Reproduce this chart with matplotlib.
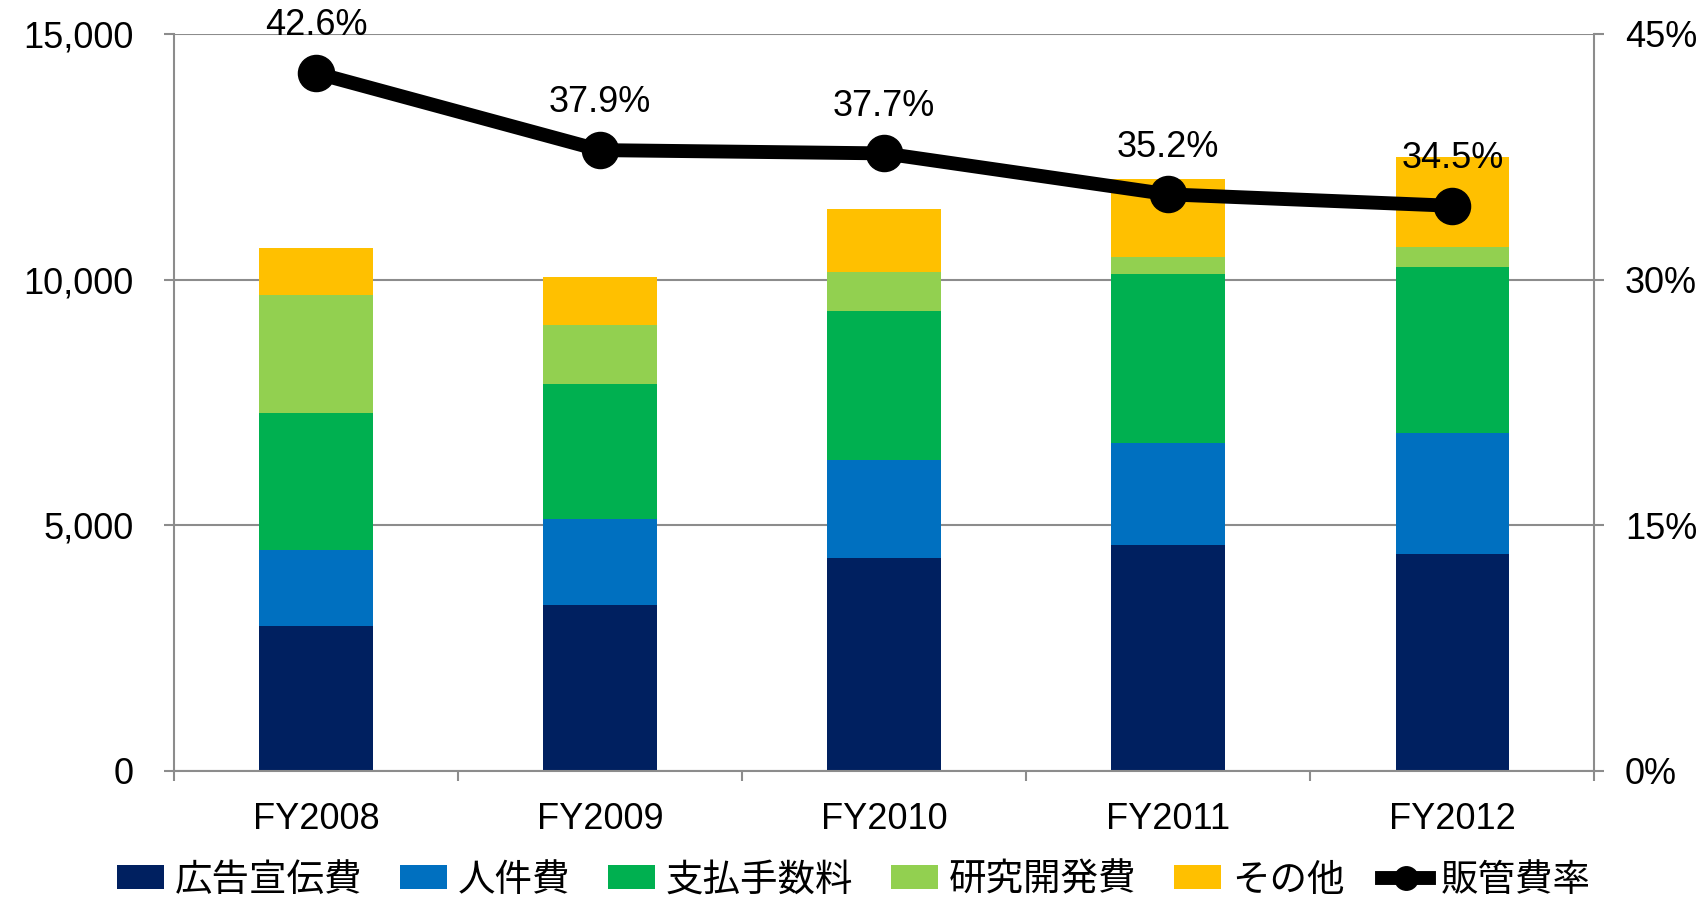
import matplotlib
matplotlib.use("Agg")
import matplotlib.pyplot as plt
import numpy as np

# data
years = ["FY2008", "FY2009", "FY2010", "FY2011", "FY2012"]
advertising = [2960, 3375, 4330, 4595, 4413]      # 広告宣伝費
personnel = [1545, 1760, 1995, 2080, 2462]        # 人件費
fees = [2780, 2735, 3030, 3435, 3370]             # 支払手数料
rnd = [2395, 1205, 790, 350, 425]                 # 研究開発費
other = [965, 985, 1295, 1595, 1820]              # その他
sga_ratio = [42.6, 37.9, 37.7, 35.2, 34.5]        # 販管費率

series = [
    ("広告宣伝費", advertising, "#002060"),
    ("人件費", personnel, "#0070C0"),
    ("支払手数料", fees, "#00B050"),
    ("研究開発費", rnd, "#92D050"),
    ("その他", other, "#FFC000"),
]

plt.rcParams["font.family"] = ["Liberation Sans", "Noto Sans CJK JP", "DejaVu Sans"]
GRID = "#8c8c8c"

fig = plt.figure(figsize=(17.07, 8.99), dpi=100)
ax = fig.add_axes([0.102, 0.1424, 0.832, 0.820])
x = np.arange(len(years))

bottom = np.zeros(len(years))
handles = []
for name, vals, col in series:
    b = ax.bar(x, vals, 0.40, bottom=bottom, color=col, label=name, zorder=2)
    handles.append(b)
    bottom += np.array(vals)

ax.set_xlim(-0.5, len(years) - 0.5)
ax.set_ylim(0, 15000)
ax.set_yticks([0, 5000, 10000, 15000])
ax.set_yticklabels(["0", "5,000", "10,000", "15,000"])
ax.yaxis.grid(True, color=GRID, linewidth=1.5, zorder=0)
ax.set_axisbelow(True)

ax.set_xticks(x)
ax.set_xticklabels(years)
ax.set_xticks(np.arange(-0.5, len(years)), minor=True)
ax.tick_params(axis="x", which="major", length=0, pad=22, labelsize=26)
ax.tick_params(axis="x", which="minor", length=7, width=1.5, color=GRID)
ax.tick_params(axis="y", length=7, width=1.5, color=GRID, labelsize=26, pad=22)

for s in ["top", "right"]:
    ax.spines[s].set_visible(False)
for s in ["left", "bottom"]:
    ax.spines[s].set_color(GRID)
    ax.spines[s].set_linewidth(1.5)

ax2 = ax.twinx()
ax2.set_ylim(0, 45)
ax2.set_yticks([0, 15, 30, 45])
ax2.set_yticklabels(["0%", "15%", "30%", "45%"])
ax2.tick_params(axis="y", length=7, width=1.5, color=GRID, labelsize=26, pad=15)
for s in ["top", "left", "bottom"]:
    ax2.spines[s].set_visible(False)
ax2.spines["right"].set_color(GRID)
ax2.spines["right"].set_linewidth(1.5)

line, = ax2.plot(x, sga_ratio, color="black", linewidth=10, marker="o",
                 markersize=26, label="販管費率", zorder=5)
for xi, v in zip(x, sga_ratio):
    ax2.annotate("{:.1f}%".format(v), (xi, v), xytext=(0, 34),
                 textcoords="offset points", ha="center", va="center",
                 fontsize=26, zorder=6)

handles.append(line)
leg = fig.legend(handles, [h.get_label() for h in handles], loc="center",
                 bbox_to_anchor=(0.5, 0.021), ncol=6, frameon=False,
                 handlelength=1.25, handleheight=0.6, markerscale=0.65,
                 handletextpad=0.3, columnspacing=1.0,
                 prop={"family": ["Noto Sans CJK JP"], "size": 27})

fig.savefig("out.png", dpi=100)
